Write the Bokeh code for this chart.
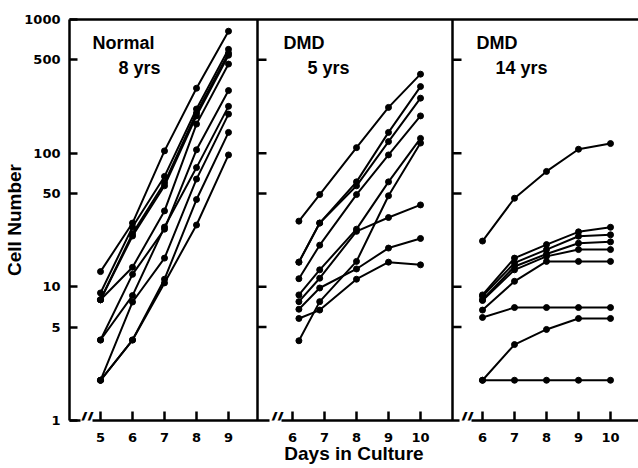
from bokeh.plotting import figure
from bokeh.models import LinearAxis, FixedTicker, Span, Label, Range1d
from bokeh.embed import file_html
from bokeh.resources import INLINE

# ---------------- data ----------------
normal_days = [5, 6, 7, 8, 9]
normal_8yrs = [
    [13, 30, 104, 306, 817],
    [9, 28, 67, 214, 598],
    [8, 25, 60, 200, 560],
    [8, 24, 57, 190, 540],
    [8, 14, 37, 165, 464],
    [4, 12.4, 27, 106, 294],
    [4, 8.6, 28, 78, 224],
    [2, 7.7, 16.4, 64, 196],
    [2, 4, 11.4, 45, 143],
    [2, 4, 10.7, 29, 97],
]

dmd5_days = [6.2, 6.85, 8, 9, 10]
dmd_5yrs = [
    [31, 49, 110, 220, 390],
    [15.3, 30, 61, 143, 315],
    [15.3, 30, 57, 122, 258],
    [11.5, 20.5, 49, 97, 190],
    [8.7, 13.4, 27, 61, 129],
    [7.75, 11.6, 26, 33, 41],
    [6.8, 9.8, 13.6, 19.5, 23],
    [5.8, 6.7, 11.4, 15.3, 14.6],
    [3.95, 7.75, 15.5, 48, 119],
]

dmd14_days = [6, 7, 8, 9, 10]
dmd_14yrs = [
    [22, 46, 73, 107, 118],
    [8.7, 16.4, 20.7, 25.8, 27.9],
    [8.5, 15.1, 19, 23.9, 24.5],
    [8, 14.2, 17.6, 21.2, 21.7],
    [7.9, 13.4, 16.9, 19, 19],
    [6.7, 11, 15.5, 15.5, 15.5],
    [5.9, 7, 7, 7, 7],
    [2, 3.7, 4.8, 5.8, 5.8],
    [2, 2, 2, 2, 2],
]

panel_titles = [("Normal", "8 yrs"), ("DMD", "5 yrs"), ("DMD", "14 yrs")]
panel_day_ticks = [[5, 6, 7, 8, 9], [6, 7, 8, 9, 10], [6, 7, 8, 9, 10]]
y_ticks = [1, 5, 10, 50, 100, 500, 1000]
divider_ticks = [5, 10, 50, 100, 500]
x_title = "Days in Culture"
y_title = "Cell Number"

# ---------------- layout / style ----------------
panel_offsets = [0.0, 5.0, 10.9375]      # each panel's day axis placed side by side
dividers = [9.90625, 16.0]
break_x = [4.53, 10.47, 16.41]
x_start = 4.03125
W, H = 638, 468
LEFT, TOP, BOTTOM = 69, 19, 48
frame_w = W - LEFT
x_end = x_start + frame_w / 32.0
title_pos = [((4.75, 790), (5.5625, 515)),
             ((10.72, 790), (11.47, 515)),
             ((16.75, 790), (17.34, 515))]
# gaps in the bottom axis line at the three axis breaks (px along the axis)
AXIS_DASH = "11 12 177 12 178 12 167"

LW = 2.5
TICK_FONT = "DejaVu Sans"
TEXT_FONT = "Liberation Sans"

p = figure(width=W, height=H,
           x_range=Range1d(x_start, x_end), y_range=Range1d(1, 1000),
           y_axis_type="log", output_backend="svg", toolbar_location=None,
           min_border_left=LEFT, min_border_right=0, min_border_top=TOP,
           min_border_bottom=BOTTOM)
p.outline_line_color = None
p.grid.visible = False
p.background_fill_color = "white"
p.border_fill_color = "white"

# y axis
ya = p.yaxis[0]
ya.ticker = FixedTicker(ticks=y_ticks)
ya.major_label_overrides = {t: str(t) for t in y_ticks}
ya.axis_line_width = LW
ya.axis_line_color = "black"
ya.major_tick_line_width = LW
ya.major_tick_line_color = "black"
ya.major_tick_in = 8
ya.major_tick_out = 0
ya.minor_tick_in = 0
ya.minor_tick_out = 0
ya.minor_tick_line_color = None
ya.major_label_standoff = 9
ya.major_label_text_font = TICK_FONT
ya.major_label_text_font_style = "bold"
ya.major_label_text_font_size = "13px"
ya.major_label_text_color = "black"
ya.axis_label = y_title
ya.axis_label_text_font = TEXT_FONT
ya.axis_label_text_font_style = "bold"
ya.axis_label_text_font_size = "19px"
ya.axis_label_text_color = "black"
ya.axis_label_standoff = -4

# x axis
tick_pos = []
tick_lab = {}
for off, days in zip(panel_offsets, panel_day_ticks):
    for d in days:
        tick_pos.append(d + off)
        tick_lab[d + off] = str(d)
xa = p.xaxis[0]
xa.ticker = FixedTicker(ticks=tick_pos)
xa.major_label_overrides = tick_lab
xa.axis_line_width = LW
xa.axis_line_color = "black"
xa.axis_line_dash = AXIS_DASH
xa.major_tick_line_width = LW
xa.major_tick_line_color = "black"
xa.major_tick_in = 9
xa.major_tick_out = 0
xa.minor_tick_line_color = None
xa.major_label_standoff = 12
xa.major_label_text_font = TICK_FONT
xa.major_label_text_font_style = "bold"
xa.major_label_text_font_size = "13px"
xa.major_label_text_color = "black"
xa.axis_label = x_title
xa.axis_label_text_font = TEXT_FONT
xa.axis_label_text_font_style = "bold"
xa.axis_label_text_font_size = "19px"
xa.axis_label_text_color = "black"
xa.axis_label_standoff = -2

# top frame line
top = LinearAxis(ticker=FixedTicker(ticks=[]), axis_line_width=LW, axis_line_color="black",
                 major_tick_line_color=None, minor_tick_line_color=None,
                 major_label_text_font_size="0px", major_label_standoff=0)
p.add_layout(top, "above")

# panel dividers with inward ticks
for d in dividers:
    p.add_layout(Span(location=d, dimension="height", line_color="black", line_width=LW))
    p.ray(x=[d] * len(divider_ticks), y=divider_ticks, length=9, length_units="screen",
          angle=0, line_color="black", line_width=LW)

# data
for off, days, series in zip(panel_offsets, [normal_days, dmd5_days, dmd14_days],
                             [normal_8yrs, dmd_5yrs, dmd_14yrs]):
    xs = [d + off for d in days]
    for ys in series:
        p.line(xs, ys, line_color="black", line_width=2)
        p.scatter(xs, ys, size=6, fill_color="black", line_color="black")

# panel titles
for (l1, l2), ((x1, y1), (x2, y2)) in zip(panel_titles, title_pos):
    for txt, xx, yy in ((l1, x1, y1), (l2, x2, y2)):
        p.add_layout(Label(x=xx, y=yy, text=txt, text_font=TEXT_FONT,
                           text_font_style="bold", text_font_size="18px",
                           text_color="black",
                           text_baseline="top", text_align="left"))

# axis break marks
for bx in break_x:
    p.add_layout(Label(x=bx, y=1, text="//", text_font=TEXT_FONT,
                       text_font_style="bold italic", text_font_size="22px",
                       text_color="black",
                       text_align="center", text_baseline="middle"))

open("out.html", "w").write(file_html(p, INLINE))
